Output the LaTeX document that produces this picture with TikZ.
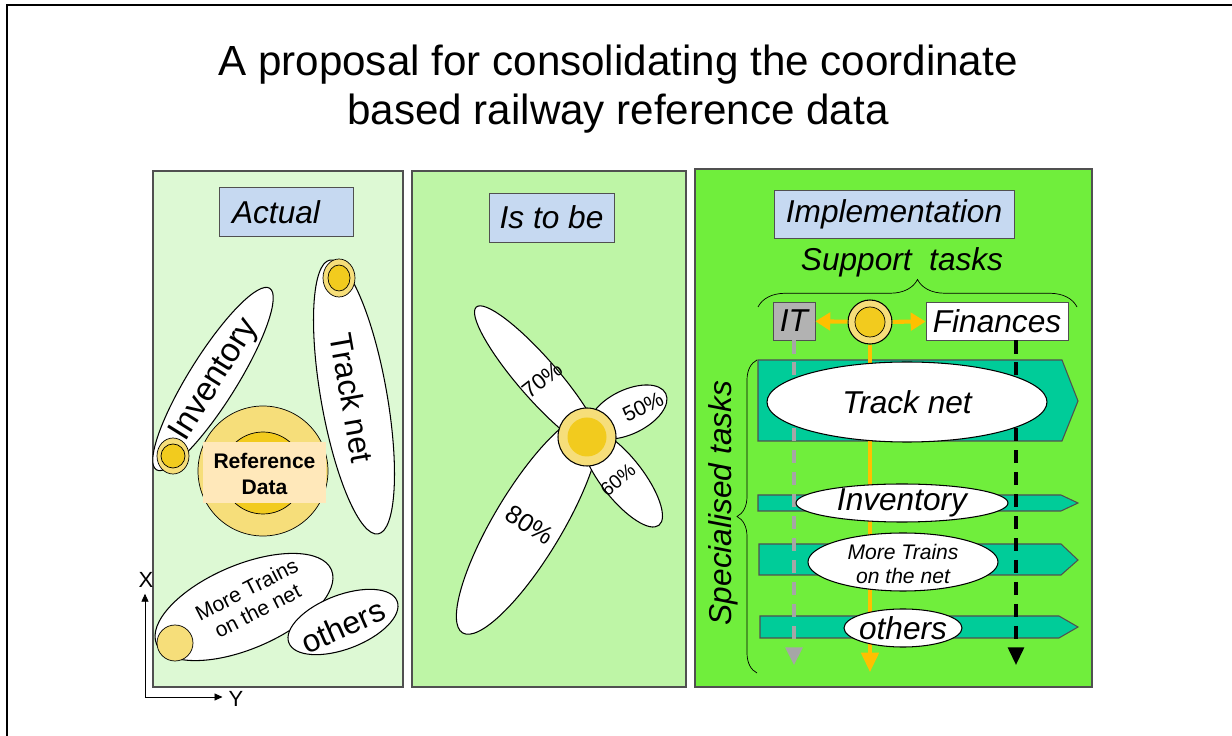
\documentclass[tikz,border=0pt]{standalone}
\usepackage{fontspec}
\setmainfont{Liberation Sans}
\usetikzlibrary{shapes.geometric,arrows.meta,decorations.pathreplacing}
\newcommand{\px}{0.02cm}
\newcommand{\fsize}[2]{\fontsize{#1}{#2}\selectfont}
\definecolor{actualbg}{RGB}{221,249,212}
\definecolor{tobebg}{RGB}{190,245,166}
\definecolor{implbg}{RGB}{112,238,60}
\definecolor{tagblue}{RGB}{198,217,241}
\definecolor{panelline}{RGB}{80,80,80}
\definecolor{paleyellow}{RGB}{246,222,122}
\definecolor{gold}{RGB}{242,203,30}
\definecolor{peach}{RGB}{255,232,186}
\definecolor{barteal}{RGB}{0,204,153}
\definecolor{arrowyellow}{RGB}{255,192,0}
\definecolor{itgray}{RGB}{178,178,178}
\definecolor{dashgray}{RGB}{166,166,166}
\tikzset{
  panel/.style={draw=panelline, line width=0.8pt},
  tag/.style={draw=panelline, fill=tagblue, inner sep=0pt, font=\fsize{18pt}{20pt}\itshape},
  oval/.style={ellipse, draw, fill=white, inner sep=0pt, line width=0.6pt},
  ring/.style={circle, draw, fill=paleyellow, inner sep=0pt, line width=0.6pt},
  tasktext/.style={font=\fsize{18pt}{18pt}\itshape},
  bar/.style={draw=panelline, fill=barteal, line width=0.6pt},
  yarrow/.style={draw=arrowyellow, line width=2.3pt, -{Triangle[length=8.5pt,width=10pt]}},
  graydash/.style={draw=dashgray, line width=1.8pt, dash pattern=on 7.5pt off 5pt, -{Triangle[length=10pt,width=9.6pt]}},
  goldline/.style={draw=arrowyellow, line width=1.8pt, -{Triangle[length=11pt,width=10pt]}},
  blackdash/.style={draw=black, line width=1.8pt, dash pattern=on 7.5pt off 5pt, -{Triangle[length=10pt,width=9pt]}},
}
\begin{document}
\begin{tikzpicture}[x=0.02cm, y=-0.02cm]
  \useasboundingbox (0,0) rectangle (1232,736);
  \draw[line width=1.2pt] (7,736) -- (7,5) -- (1232,5);
  \node[align=center, font=\fsize{24pt}{27.5pt}] (title) at (618,89)
       {A proposal for consolidating the coordinate\\based railway reference data};

  \draw[panel, fill=actualbg] (153,171) rectangle (403,687);
  \draw[panel, fill=tobebg]   (412,171) rectangle (686,687);
  \draw[panel, fill=implbg]   (695,169) rectangle (1092,687);

  % Actual
  \node[tag, minimum width=134*\px, minimum height=49*\px] (actual) at (286,212) {Actual\rule{0.4cm}{0pt}};
  \filldraw[fill=paleyellow] (263,471) circle (65);
  \filldraw[fill=gold] (263,473) circle (41);
  \fill[peach] (203,442) rectangle (326,503);
  \node[align=center, font=\fsize{12pt}{14.7pt}\bfseries] (refdata) at (264.5,474) {Reference\\Data};
  \node[oval, minimum width=214*\px, minimum height=48*\px, rotate=58] (inv) at (213,379) {};
  \node[font=\fsize{19pt}{19pt}, rotate=58] (invtxt) at (215,380) {Inventory};
  \filldraw[fill=paleyellow] (173,456) ellipse (16 and 18);
  \filldraw[fill=gold] (173,456) circle (12);
  \node[oval, minimum width=278*\px, minimum height=66*\px, rotate=-80] (track) at (354,397) {};
  \node[font=\fsize{18pt}{18pt}, rotate=-80] (tracktxt) at (352,398) {Track net};
  \filldraw[fill=paleyellow] (339,278) ellipse (16 and 19);
  \filldraw[fill=gold] (339,278) ellipse (11 and 13);
  \node[oval, minimum width=190*\px, minimum height=84*\px, rotate=23] (trains) at (244,607) {};
  \node[align=center, font=\fsize{12pt}{13.6pt}, rotate=27] (trainstxt) at (252,600) {More Trains\\on the net};
  \filldraw[fill=paleyellow] (175,643) circle (18);
  \node[oval, minimum width=116*\px, minimum height=54*\px, rotate=21] (others) at (343,622) {};
  \node[font=\fsize{18pt}{18pt}, rotate=24] (otherstxt) at (343,626) {others};

  \coordinate (origin) at (145,697);
  \node[font=\fsize{12.5pt}{12.5pt}] (xlbl) at (146,580) {X};
  \node[font=\fsize{12.5pt}{12.5pt}] (ylbl) at (236,699) {Y};
  \draw[-{Triangle[length=4.5pt,width=4pt]}] (origin) -- (origin |- xlbl.south);
  \draw[-{Triangle[length=4.5pt,width=4pt]}] (origin) -- (ylbl.west |- origin);

  % Is to be
  \node[tag, minimum width=125*\px, minimum height=49*\px] (tobe) at (551.5,217.5) {Is to be};
  \node[oval, minimum width=188*\px, minimum height=40*\px, rotate=-49] (p70) at (538,378) {};
  \node[oval, minimum width=254*\px, minimum height=68*\px, rotate=59] (p80) at (528,524) {};
  \node[oval, minimum width=84*\px, minimum height=44*\px, rotate=26] (p50) at (628,412) {};
  \node[oval, minimum width=120*\px, minimum height=42*\px, rotate=-52] (p60) at (622,478) {};
  \node[ring, minimum size=58*\px] (flower) at (587,437) {};
  \fill[gold] (587,437) circle (19.5);
  \node[font=\fsize{12.5pt}{12.5pt}, rotate=38] (t70) at (542,380) {70\%};
  \node[font=\fsize{12pt}{12pt}, rotate=26] (t50) at (643,407) {50\%};
  \node[font=\fsize{11pt}{11pt}, rotate=40] (t60) at (618,480) {60\%};
  \node[font=\fsize{14.5pt}{14.5pt}, rotate=-33] (t80) at (530,525) {80\%};

  % Implementation
  \node[tag, minimum width=240*\px, minimum height=48*\px] (impl) at (894,214) {Implementation};
  \node[tasktext] (support) at (902,262) {Support~ tasks};
  \draw[decorate, decoration={brace, amplitude=0.55cm}] (758,307) -- (1077,307);
  \node[draw=panelline, fill=itgray, minimum width=42*\px, minimum height=38*\px, inner sep=0pt, tasktext] (it) at (794,321) {IT};
  \node[draw=panelline, fill=white, minimum width=142*\px, minimum height=38*\px, inner sep=0pt, tasktext] (fin) at (997,321) {Finances};
  \node[ring, minimum size=44*\px] (hub) at (870,322) {};
  \filldraw[fill=gold] (hub) circle (15);
  \draw[yarrow] (hub) -- (it);
  \draw[yarrow] (hub) -- (fin);

  \draw[bar] (758,360) -- (1062,360) -- (1078,401) -- (1062,441) -- (758,441) -- cycle;
  \draw[bar] (758,495) -- (1061,495) -- (1078,503) -- (1061,511) -- (758,511) -- cycle;
  \draw[bar] (759,544) -- (1061,544) -- (1078,560) -- (1061,575) -- (759,575) -- cycle;
  \draw[bar] (760,616) -- (1059,616) -- (1078,627) -- (1059,638) -- (760,638) -- cycle;

  \coordinate (itend) at (794,665);
  \coordinate (hubend) at (870,672);
  \coordinate (finend) at (1016,665);
  \draw[graydash] (it) -- (itend);
  \draw[goldline] (hub) -- (hubend);
  \draw[blackdash] (fin.south -| finend) -- (finend);

  \node[oval, minimum width=280*\px, minimum height=80*\px] (tracknet) at (907,402) {};
  \node[tasktext] (tracknettxt) at (907,402) {Track net};
  \node[oval, minimum width=212*\px, minimum height=38*\px] (inventory) at (902,503) {};
  \node[tasktext] (inventorytxt) at (902,503) {Inventory};
  \node[oval, minimum width=190*\px, minimum height=58*\px] (moretrains) at (903,562) {};
  \node[align=center, font=\fsize{12pt}{14pt}\itshape] (moretrainstxt) at (903,564) {More Trains\\on the net};
  \node[oval, minimum width=118*\px, minimum height=38*\px] (others2) at (903,628) {};
  \node[tasktext] (others2txt) at (903,628) {others};

  \draw[decorate, decoration={brace, amplitude=0.4cm}] (757,673) -- (757,360);
  \node[tasktext, rotate=90] (spec) at (723,503) {Specialised tasks};
\end{tikzpicture}
\end{document}
